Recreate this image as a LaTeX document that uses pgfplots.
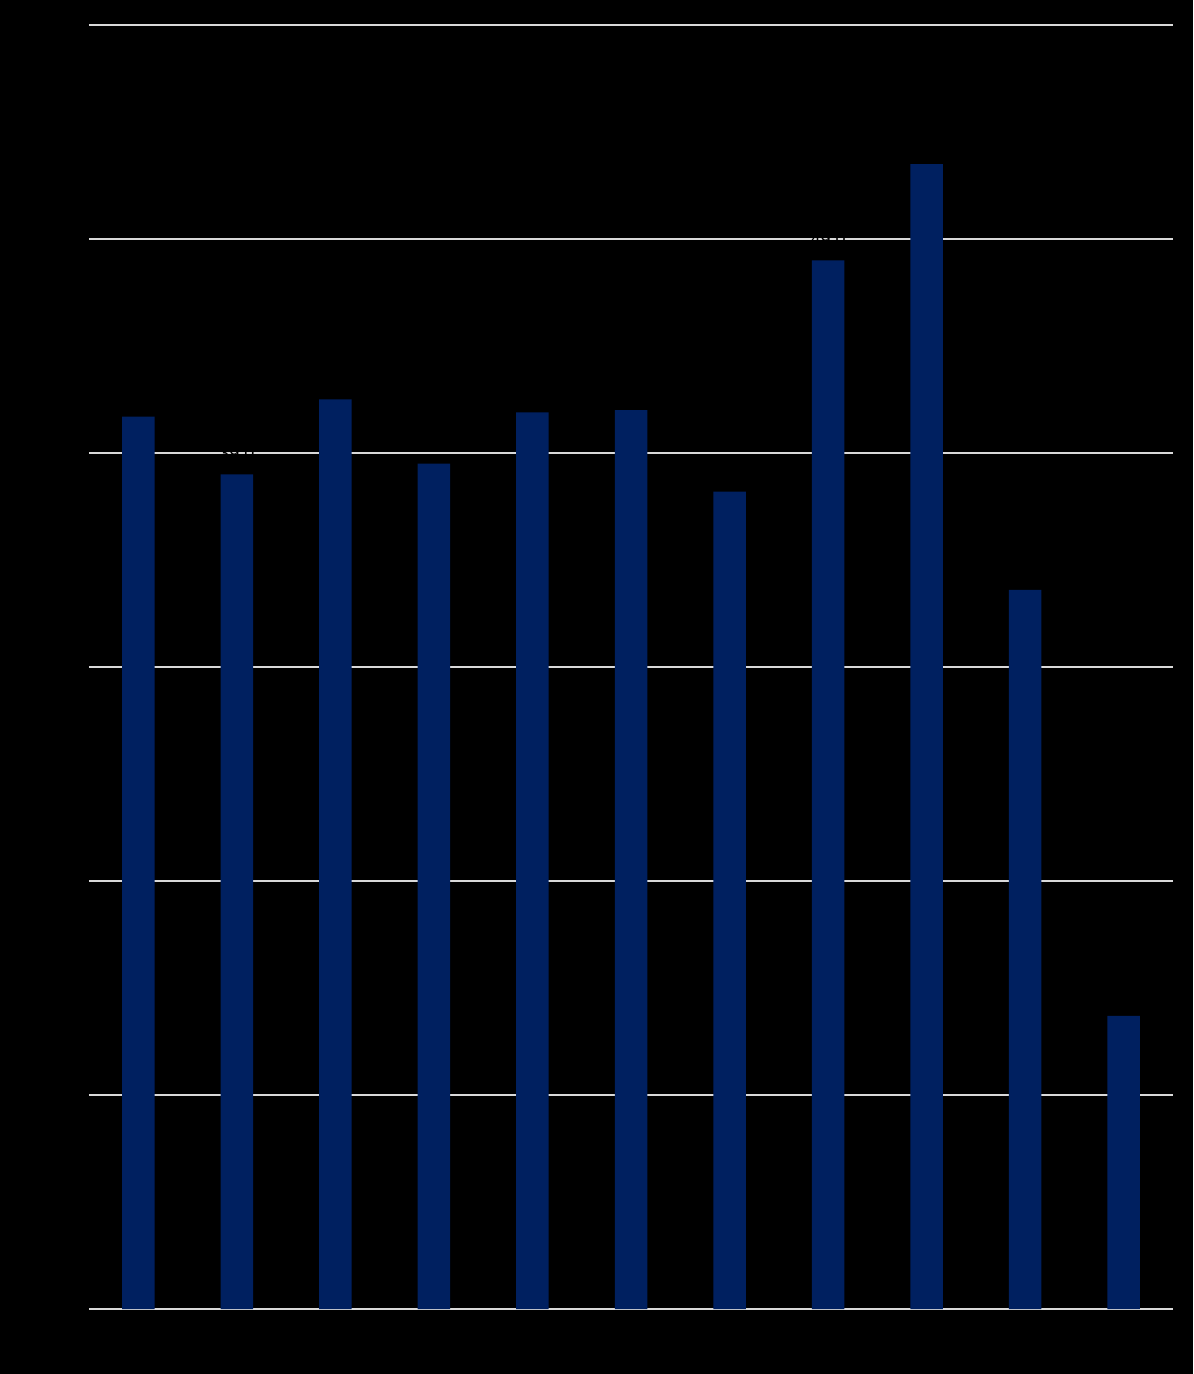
\documentclass[border=0pt]{standalone}
\usepackage{fontspec}
\setmainfont{Liberation Sans}
\usepackage{pgfplots}
\pgfplotsset{compat=1.18}
\definecolor{barnavy}{RGB}{0,32,96}
\definecolor{gridgray}{RGB}{217,217,217}

\pgfplotstableread{
x  val
0  41.7
1  39.0
2  42.5
3  39.5
4  41.9
5  42.0
6  38.2
7  49.0
8  53.5
9  33.6
10 13.7
}\bardata

\begin{document}
\begin{tikzpicture}[x=1pt,y=1pt]
\fill[black] (-44.5,-32.5) rectangle (552,654.5);
\begin{axis}[
  at={(0,0)}, anchor=south west,
  scale only axis,
  width=542pt, height=642pt,
  xmin=-0.5, xmax=10.5,
  ymin=0, ymax=60,
  ytick={0,10,...,60},
  xtick=data,
  xticklabels={1,2,3,4,5,6,7,8,9,10,11},
  ymajorgrids,
  grid style={gridgray, line width=1pt},
  axis line style={draw=none},
  major tick style={draw=none},
  tick label style={font=\small, text=black},
  /pgf/number format/assume math mode=true,
  clip=false,
]
\addplot[ybar, bar width=16.25pt, fill=barnavy, draw=none,
  nodes near coords, nodes near coords style={font=\small, text=black, yshift=4pt},
  /pgf/number format/fixed, /pgf/number format/precision=1,
  /pgf/number format/fixed zerofill]
  table[x=x, y=val] {\bardata};
\end{axis}
\pgfresetboundingbox
\path[use as bounding box] (-44.5,-32.5) rectangle (552,654.5);
\end{tikzpicture}
\end{document}
